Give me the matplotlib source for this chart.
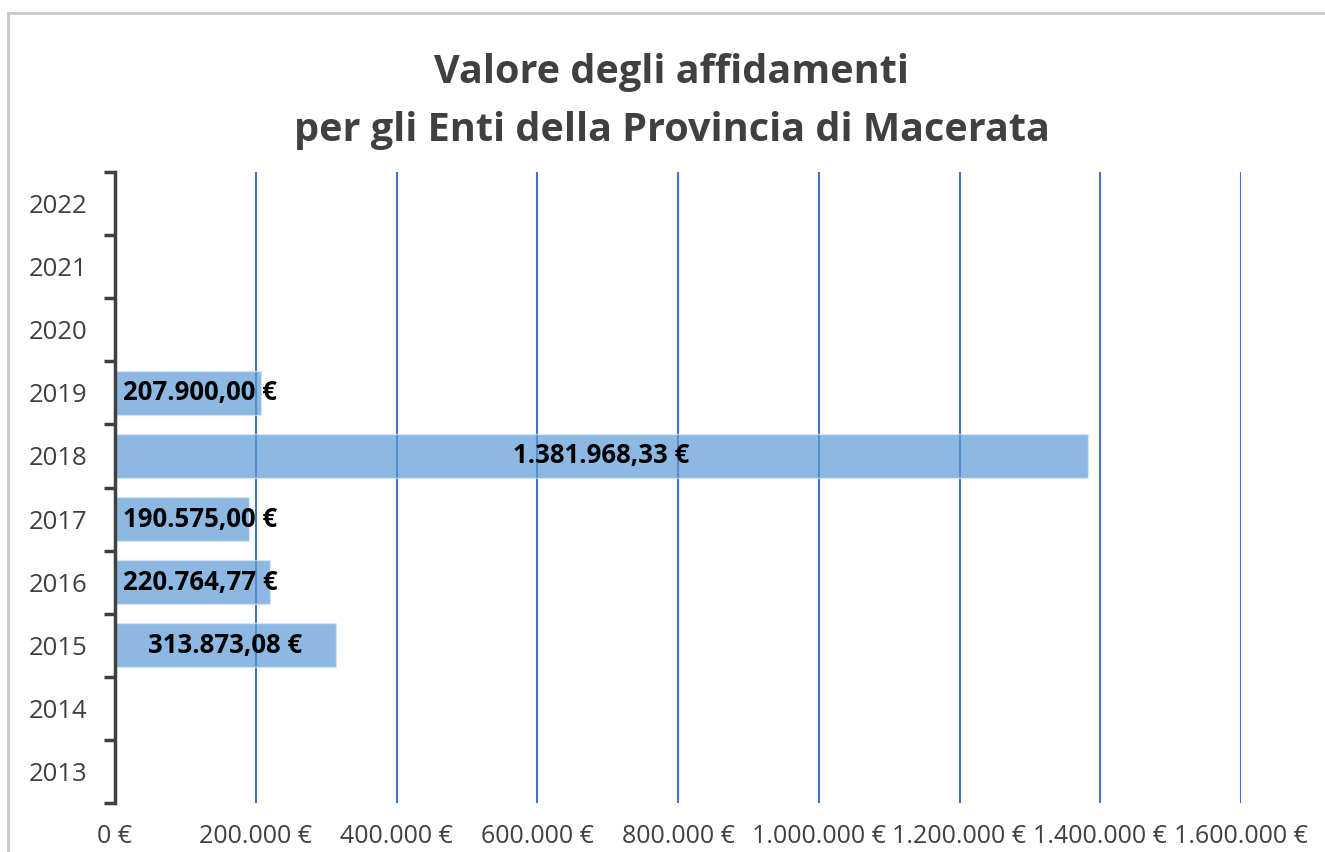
import matplotlib
matplotlib.use("Agg")
import matplotlib.pyplot as plt
from matplotlib.patches import Rectangle
from matplotlib.ticker import FixedLocator, FuncFormatter

# data
anni = ["2013", "2014", "2015", "2016", "2017", "2018", "2019", "2020", "2021", "2022"]
valori = [0, 0, 313873.08, 220764.77, 190575.00, 1381968.33, 207900.00, 0, 0, 0]
etichette = ["", "", "313.873,08 €", "220.764,77 €", "190.575,00 €",
             "1.381.968,33 €", "207.900,00 €", "", "", ""]
x_ticks = [0, 200000, 400000, 600000, 800000, 1000000, 1200000, 1400000, 1600000]

plt.rcParams['font.family'] = ['Open Sans', 'DejaVu Sans']
grigio = '#404040'

fig = plt.figure(figsize=(13.25, 8.52), dpi=100)
# cornice grigia del grafico
fig.patches.append(Rectangle((8 / 1325, -0.1), 1.2, 1 - 13 / 852 + 0.1,
                             transform=fig.transFigure, fill=False,
                             edgecolor='#c8c8c8', lw=2))

ax = fig.add_axes([115 / 1325, 49 / 852, 1126 / 1325, 631 / 852])
pos = list(range(len(anni)))
ax.barh(pos, valori, height=0.69, color='#5B9BD5', alpha=0.7,
        edgecolor='#dbe8f5', lw=1, zorder=3)

ax.set_xlim(0, 1600000)
ax.set_ylim(-0.5, len(anni) - 0.5)

# griglia verticale
for t in x_ticks[1:]:
    ax.axvline(t, color='#4472C4', lw=1.5, zorder=2)

for s in ['top', 'right', 'bottom']:
    ax.spines[s].set_visible(False)
ax.spines['left'].set_color(grigio)
ax.spines['left'].set_linewidth(2.5)
ax.spines['left'].set_zorder(5)

ax.set_xticks(x_ticks)
ax.xaxis.set_major_formatter(FuncFormatter(lambda v, p: f"{int(v):,} €".replace(",", ".")))
ax.tick_params(axis='x', length=0, pad=15, labelsize=18, labelcolor=grigio)

ax.yaxis.set_major_locator(FixedLocator([p - 0.5 for p in pos] + [len(anni) - 0.5]))
ax.yaxis.set_major_formatter(FuncFormatter(lambda v, p: ""))
ax.yaxis.set_minor_locator(FixedLocator(pos))
ax.set_yticklabels(anni, minor=True)
ax.tick_params(axis='y', which='major', length=8, width=2.5, color=grigio)
ax.tick_params(axis='y', which='minor', length=0, pad=20, labelsize=18.5, labelcolor=grigio)

# etichette dati centrate, spostate a destra se uscirebbero dall'asse
fig.canvas.draw()
r = fig.canvas.get_renderer()
inv = ax.transData.inverted()
for p, v, e in zip(pos, valori, etichette):
    if not e:
        continue
    t = ax.text(v / 2, p, e, ha='center', va='center', fontsize=18.5,
                fontweight='bold', color='black', zorder=6)
    bb = t.get_window_extent(renderer=r)
    x0 = ax.transData.transform((0, p))[0]
    if bb.x0 < x0 + 8:
        t.set_x(inv.transform((x0 + 8, 0))[0])
        t.set_ha('left')

fig.text(672 / 1325, 1 - 72 / 852, "Valore degli affidamenti", ha='center', va='center',
         fontsize=28.5, fontweight='bold', color=grigio)
fig.text(672 / 1325, 1 - 131 / 852, "per gli Enti della Provincia di Macerata", ha='center',
         va='center', fontsize=28.5, fontweight='bold', color=grigio)

fig.savefig("out.png", dpi=100)
